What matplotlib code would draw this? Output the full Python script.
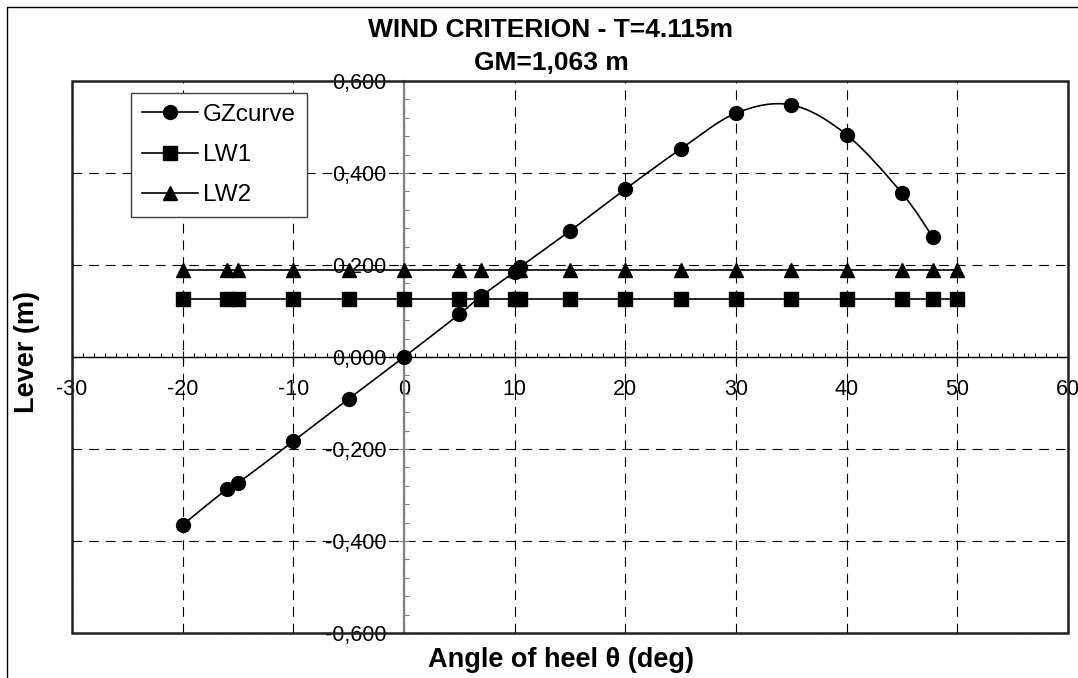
import numpy as np
import matplotlib
matplotlib.use("Agg")
import matplotlib.pyplot as plt
from matplotlib.path import Path
from matplotlib.patches import PathPatch, Rectangle
from matplotlib.lines import Line2D
from matplotlib.ticker import MultipleLocator, FuncFormatter

plt.rcParams['font.family'] = ['Liberation Sans', 'DejaVu Sans']
plt.rcParams['axes.unicode_minus'] = False
plt.rcParams['lines.scale_dashes'] = False

# angle of heel (deg) used by all series
angles = [-20, -16, -15, -10, -5, 0, 5, 7, 10, 10.5, 15, 20, 25, 30, 35, 40, 45, 47.8]
gz_curve = [-0.365, -0.287, -0.274, -0.183, -0.091, 0.0, 0.093, 0.133, 0.185, 0.196,
            0.274, 0.365, 0.452, 0.530, 0.548, 0.483, 0.356, 0.260]
lw_angles = [-20, -16, -15, -10, -5, 0, 5, 7, 10, 10.5, 15, 20, 25, 30, 35, 40, 45, 47.8, 50]
lw1 = [0.126] * len(lw_angles)
lw2 = [0.190] * len(lw_angles)

title_1 = "WIND CRITERION - T=4.115m"
title_2 = "GM=1,063 m"


def smooth_path(xs, ys):
    # Catmull-Rom style bezier, like the spreadsheet "smoothed line"
    p = np.column_stack([xs, ys])
    verts = [p[0]]
    codes = [Path.MOVETO]
    n = len(p)
    for i in range(n - 1):
        p0 = p[i - 1] if i > 0 else p[i]
        p3 = p[i + 2] if i + 2 < n else p[i + 1]
        c1 = p[i] + (p[i + 1] - p0) / 6.0
        c2 = p[i + 1] - (p3 - p[i]) / 6.0
        verts += [c1, c2, p[i + 1]]
        codes += [Path.CURVE4] * 3
    return Path(verts, codes)


W, H = 1078, 678
fig = plt.figure(figsize=(W / 100, H / 100), dpi=100)
ax = fig.add_axes([72 / W, 1 - 633 / H, (1068 - 72) / W, (633 - 81) / H])

ax.set_xlim(-30, 60)
ax.set_ylim(-0.6, 0.6)

# dashed grid
ax.xaxis.set_major_locator(MultipleLocator(10))
ax.yaxis.set_major_locator(MultipleLocator(0.2))
ax.xaxis.set_minor_locator(MultipleLocator(1))
ax.yaxis.set_minor_locator(MultipleLocator(0.04))
ax.grid(True, which='major', color='black', lw=0.8, linestyle=(0, (7, 5)))
ax.set_axisbelow(True)

# axes crossing at zero
ax.spines['left'].set_position(('data', 0))
ax.spines['bottom'].set_position(('data', 0))
ax.spines['top'].set_visible(False)
ax.spines['right'].set_visible(False)
ax.spines['left'].set_color('#808080')
ax.spines['left'].set_linewidth(1.6)
ax.spines['bottom'].set_color('black')
ax.spines['bottom'].set_linewidth(1.0)

ax.tick_params(axis='x', which='major', direction='inout', length=8, width=0.8,
               labelsize=15.5, pad=12)
ax.tick_params(axis='x', which='minor', direction='in', length=3, width=0.8)
ax.tick_params(axis='y', which='major', direction='inout', length=7, width=0.8,
               color='#808080', labelsize=15.5, pad=9)
ax.tick_params(axis='y', which='minor', direction='in', length=3.5, width=0.8, color='#808080')
ax.xaxis.set_major_formatter(FuncFormatter(lambda v, p: "%d" % round(v)))
ax.yaxis.set_major_formatter(FuncFormatter(lambda v, p: ("%.3f" % v).replace('.', ',')))
for lab in ax.get_xticklabels() + ax.get_yticklabels():
    lab.set_zorder(5)

# plot frame
ax.add_patch(Rectangle((0, 0), 1, 1, transform=ax.transAxes, fill=False,
                       edgecolor='#202020', lw=1.8, clip_on=False, zorder=6))

# series
ax.plot(lw_angles, lw1, color='black', lw=1.2, marker='s', markersize=9.5, zorder=3)
ax.plot(lw_angles, lw2, color='black', lw=1.2, marker='^', markersize=10, zorder=3)
ax.add_patch(PathPatch(smooth_path(angles, gz_curve), fill=False, edgecolor='black',
                       lw=1.2, zorder=4))
ax.plot(angles, gz_curve, ls='none', color='black', marker='o', markersize=10, zorder=4)

handles = [Line2D([], [], color='black', lw=1.2, marker='o', markersize=10),
           Line2D([], [], color='black', lw=1.2, marker='s', markersize=9.5),
           Line2D([], [], color='black', lw=1.2, marker='^', markersize=10)]
leg = ax.legend(handles, ['GZcurve', 'LW1', 'LW2'], loc='upper left',
                bbox_to_anchor=((131 - 72) / (1068 - 72), (633 - 93) / (633 - 81)),
                borderaxespad=0, fancybox=False, framealpha=1, edgecolor='#404040',
                fontsize=17.5, handlelength=2.3, handletextpad=0.2, labelspacing=0.75,
                borderpad=0.45)
leg.get_frame().set_linewidth(1.0)
leg.set_zorder(7)

# titles and axis labels
fig.text(551 / W, 1 - 30 / H, title_1, ha='center', va='center', fontsize=19, fontweight='bold')
fig.text(551 / W, 1 - 63 / H, title_2, ha='center', va='center', fontsize=19, fontweight='bold')
fig.text(561 / W, 1 - 660 / H, "Angle of heel θ (deg)", ha='center', va='center',
         fontsize=19.5, fontweight='bold')
fig.text(27 / W, 1 - 352 / H, "Lever (m)", ha='center', va='center', rotation=90,
         fontsize=19.5, fontweight='bold')

# outer chart border (cut off at right and bottom)
fig.add_artist(Line2D([7 / W, 7 / W, 1.0], [0.0, 1 - 7 / H, 1 - 7 / H],
                      transform=fig.transFigure, color='black', lw=1.0))

fig.savefig("out.png", dpi=100)
